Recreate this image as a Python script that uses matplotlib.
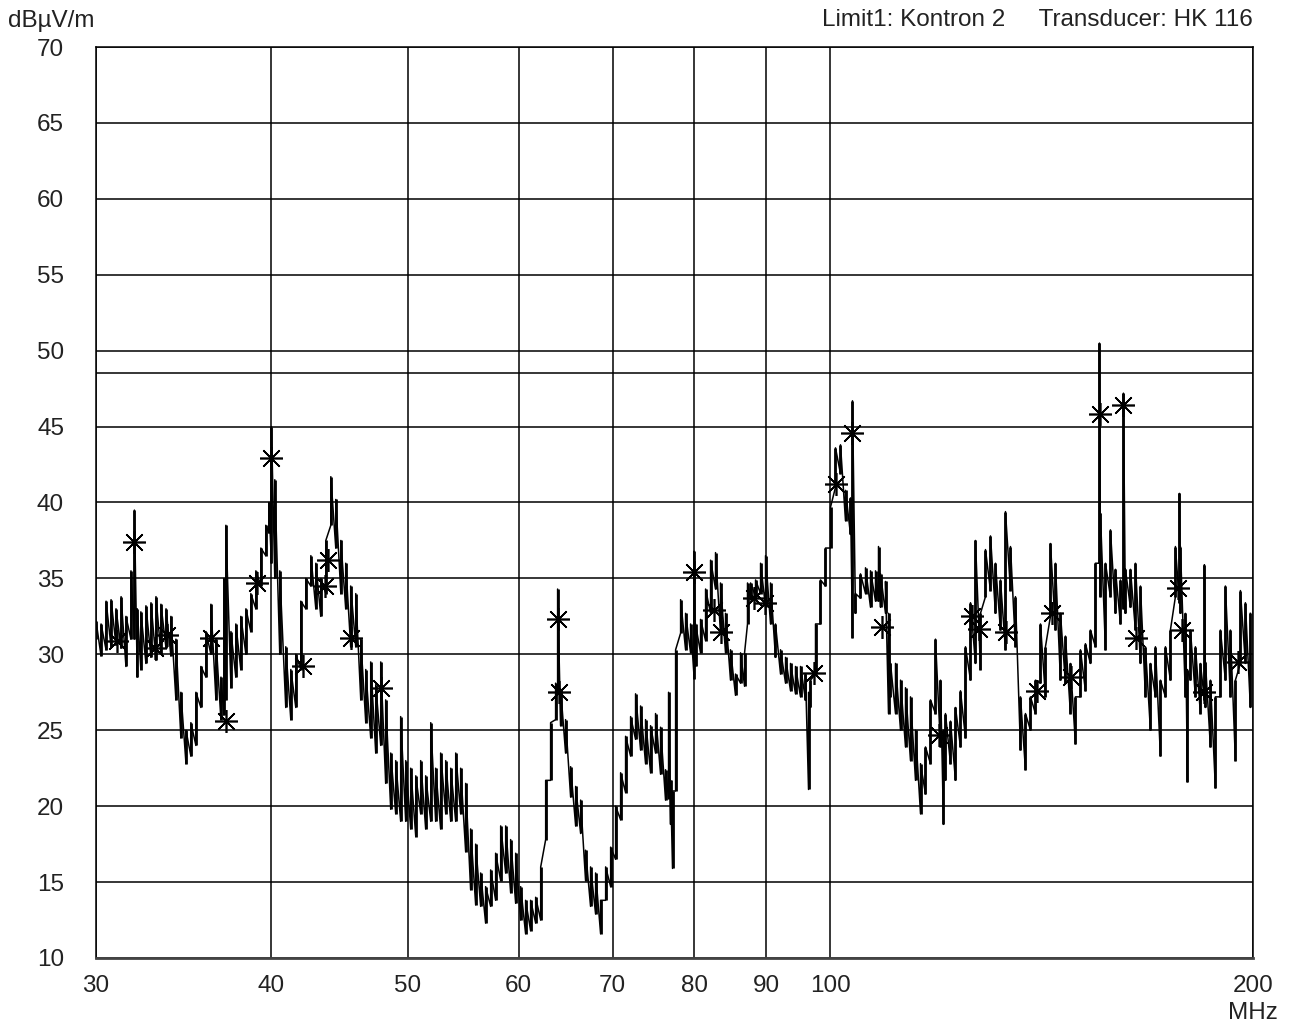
import numpy as np
import matplotlib
matplotlib.use("Agg")
import matplotlib.pyplot as plt
from matplotlib.ticker import NullLocator, FixedLocator, FixedFormatter

plt.rcParams["font.family"] = ["Liberation Sans", "DejaVu Sans"]

# Sweep frequencies (MHz) with the min / max level seen in each display column (dBµV/m)
freq_mhz = [
    30.00, 30.25, 30.50, 30.75, 31.00, 31.26, 31.51, 31.77, 31.95, 32.10,
    32.29, 32.56, 32.83, 33.10, 33.37, 33.65, 33.92, 34.20, 34.48, 34.77,
    35.05, 35.34, 35.63, 35.93, 36.22, 36.52, 36.82, 37.00, 37.12, 37.43,
    37.73, 38.04, 38.36, 38.67, 38.99, 39.31, 39.63, 39.83, 40.00, 40.22,
    40.55, 40.95, 41.29, 41.63, 41.97, 42.32, 42.67, 43.02, 43.37, 43.73,
    44.09, 44.45, 44.82, 45.18, 45.55, 45.93, 46.31, 46.69, 47.07, 47.46,
    47.85, 48.24, 48.64, 49.04, 49.44, 49.85, 50.26, 50.68, 51.09, 51.51,
    51.94, 52.36, 52.79, 53.23, 53.67, 54.11, 54.55, 55.00, 55.45, 55.91,
    56.37, 56.83, 57.30, 57.77, 58.25, 58.73, 59.21, 59.70, 60.19, 60.68,
    61.18, 61.69, 62.20, 62.71, 63.22, 63.74, 63.95, 64.27, 64.79, 65.33,
    65.87, 66.41, 66.95, 67.50, 68.06, 68.62, 69.19, 69.76, 70.33, 70.91,
    71.49, 72.08, 72.67, 73.27, 73.87, 74.48, 75.09, 75.71, 76.33, 76.71,
    76.96, 77.21, 77.60, 78.24, 78.88, 79.53, 80.00, 80.18, 80.84, 81.51,
    82.18, 82.85, 83.53, 84.22, 84.91, 85.61, 86.32, 86.89, 87.31, 87.75,
    88.47, 89.20, 89.93, 90.67, 91.41, 92.17, 92.93, 93.69, 94.46, 95.24,
    96.02, 96.50, 96.81, 97.61, 98.41, 99.22, 100.04, 100.86, 101.69, 102.53,
    103.37, 103.71, 104.22, 105.08, 105.95, 106.82, 107.70, 108.23, 108.59, 109.48,
    110.02, 110.38, 111.29, 112.21, 113.13, 114.06, 115.00, 115.95, 116.90, 117.86,
    118.83, 119.81, 120.40, 120.79, 121.79, 122.79, 123.80, 124.82, 125.85, 126.88,
    127.93, 128.98, 130.04, 131.11, 132.19, 133.28, 134.38, 135.48, 136.60, 137.72,
    138.86, 140.00, 141.15, 142.31, 143.48, 144.66, 145.85, 147.05, 148.26, 149.48,
    150.71, 151.95, 153.20, 154.46, 155.48, 155.73, 157.02, 158.31, 159.61, 160.93,
    161.72, 162.25, 163.58, 164.93, 166.29, 167.66, 169.04, 170.43, 171.83, 173.25,
    174.67, 176.11, 177.27, 177.56, 179.02, 179.61, 180.50, 181.98, 183.48, 184.68,
    184.99, 186.51, 188.04, 189.59, 191.15, 192.72, 194.31, 195.91, 197.52, 199.14,
]

level_min = [
    31.0, 29.9, 30.3, 30.5, 30.6, 30.4, 29.2, 31.0, 31.0, 28.5,
    29.0, 29.4, 29.8, 29.6, 30.0, 30.4, 29.9, 27.0, 24.5, 22.8,
    23.3, 24.0, 26.5, 28.5, 30.0, 27.0, 25.7, 26.0, 27.0, 27.8,
    28.5, 29.0, 30.0, 31.5, 33.0, 34.5, 36.5, 38.0, 36.0, 35.0,
    30.0, 26.5, 25.7, 26.5, 29.0, 33.0, 34.5, 33.0, 32.5, 34.0,
    38.5, 37.0, 34.0, 33.0, 30.5, 30.5, 27.0, 25.5, 24.5, 23.5,
    24.0, 21.5, 19.8, 19.5, 19.0, 19.0, 18.5, 18.0, 19.5, 18.5,
    19.0, 19.0, 18.5, 19.5, 19.0, 19.0, 19.5, 17.0, 14.5, 13.5,
    13.4, 12.3, 13.4, 13.8, 15.1, 15.6, 14.3, 13.6, 12.5, 11.6,
    11.8, 12.3, 12.5, 17.8, 21.7, 25.7, 27.4, 25.3, 23.5, 20.6,
    18.7, 18.2, 15.1, 13.4, 12.9, 11.6, 13.8, 14.7, 16.5, 19.1,
    20.9, 23.3, 24.4, 23.7, 22.8, 22.2, 23.5, 22.1, 20.4, 20.5,
    18.8, 15.9, 21.0, 31.4, 30.3, 30.1, 28.4, 29.2, 30.1, 30.9,
    32.7, 34.3, 31.4, 30.1, 28.3, 27.3, 28.1, 27.9, 32.0, 33.6,
    33.8, 34.0, 33.1, 32.0, 29.8, 28.7, 28.1, 27.6, 27.4, 27.2,
    27.0, 21.1, 26.5, 28.7, 32.0, 34.5, 37.0, 41.0, 41.9, 38.8,
    37.9, 31.1, 32.7, 33.7, 34.0, 33.1, 33.5, 33.5, 33.1, 32.7,
    26.1, 27.2, 26.1, 25.0, 23.9, 23.0, 21.7, 19.5, 20.8, 22.8,
    26.1, 23.9, 18.8, 21.7, 22.8, 21.7, 23.9, 24.5, 28.3, 29.4,
    29.0, 33.8, 34.2, 32.7, 31.6, 30.3, 34.2, 30.5, 23.7, 22.4,
    25.0, 26.1, 28.1, 27.2, 32.5, 31.6, 28.3, 28.1, 26.1, 24.1,
    27.2, 27.6, 29.4, 30.5, 36.0, 33.8, 30.3, 33.8, 32.7, 32.0,
    33.0, 32.7, 33.1, 31.6, 29.4, 27.2, 25.0, 27.2, 23.3, 27.2,
    28.3, 33.8, 33.4, 32.7, 27.2, 21.6, 28.3, 27.2, 26.1, 27.0,
    26.5, 23.9, 21.2, 27.2, 28.3, 27.2, 23.0, 29.4, 29.4, 26.5,
]

level_max = [
    32.2, 32.0, 33.5, 33.6, 33.0, 33.8, 32.5, 35.5, 39.5, 33.0,
    32.8, 33.2, 33.4, 33.8, 33.3, 33.0, 32.5, 31.0, 27.5, 25.0,
    25.5, 27.5, 29.2, 31.5, 33.3, 31.0, 28.5, 35.0, 38.5, 31.5,
    32.0, 32.5, 33.0, 34.0, 35.5, 37.0, 38.5, 40.0, 45.0, 41.5,
    35.5, 30.5, 29.0, 30.0, 33.5, 35.0, 36.5, 36.0, 35.0, 37.5,
    41.7, 40.2, 37.5, 36.0, 34.5, 34.0, 31.0, 29.0, 29.5, 28.0,
    29.5, 27.0, 23.5, 23.0, 25.9, 23.0, 22.5, 22.0, 23.0, 22.0,
    25.5, 22.5, 23.5, 23.0, 22.5, 23.5, 22.5, 21.5, 18.5, 17.5,
    15.6, 14.7, 15.8, 16.9, 18.7, 18.7, 17.8, 16.9, 14.7, 13.8,
    13.8, 14.0, 16.0, 21.7, 25.5, 28.1, 34.3, 27.7, 25.7, 22.6,
    21.3, 20.4, 17.1, 16.0, 15.6, 13.8, 16.0, 17.3, 20.0, 22.2,
    24.6, 25.9, 27.4, 26.6, 25.7, 25.3, 26.1, 25.2, 22.4, 27.5,
    21.7, 21.0, 30.3, 33.6, 32.7, 32.0, 36.8, 32.0, 32.3, 34.3,
    36.2, 36.7, 34.7, 32.7, 30.3, 28.7, 30.1, 30.1, 34.7, 34.7,
    34.9, 36.0, 36.5, 34.7, 32.0, 30.3, 29.8, 29.4, 29.2, 29.2,
    28.7, 27.5, 28.3, 32.0, 34.9, 37.0, 39.7, 43.6, 43.8, 40.8,
    40.3, 46.7, 34.0, 35.3, 35.7, 35.5, 35.5, 37.1, 35.3, 34.8,
    32.7, 29.4, 29.4, 28.3, 27.8, 27.2, 25.0, 22.8, 23.9, 27.0,
    31.0, 28.3, 25.0, 26.1, 25.6, 26.5, 27.6, 30.5, 33.4, 37.5,
    32.7, 36.9, 37.8, 36.0, 34.9, 39.4, 37.1, 33.8, 27.2, 26.1,
    27.2, 28.3, 32.0, 30.5, 37.3, 36.0, 32.7, 31.2, 29.4, 27.2,
    30.3, 30.7, 31.6, 36.0, 50.5, 39.3, 36.0, 38.2, 35.6, 34.9,
    47.2, 35.6, 35.6, 36.0, 34.5, 30.5, 29.4, 30.5, 28.3, 30.5,
    31.6, 37.1, 40.6, 37.1, 32.7, 29.0, 31.6, 30.5, 29.4, 35.9,
    29.5, 28.3, 27.2, 31.6, 34.5, 31.6, 28.3, 34.2, 33.4, 32.7,
]

# Peak-search results (asterisks)
peak_freq = [31.05, 31.95, 33.05, 33.70, 36.25, 37.15, 39.05, 40.0, 42.1, 43.7,
             43.9, 45.6, 47.9, 63.95, 64.1, 80.0, 82.7, 83.6, 88.3, 89.9,
             97.4, 100.9, 103.7, 108.8, 119.6, 126.1, 127.6, 133.3, 140.3, 143.8,
             148.5, 155.5, 161.7, 165.1, 177.0, 178.1, 184.6, 195.3]
peak_level = [30.9, 37.4, 30.4, 31.3, 31.1, 25.6, 34.7, 42.9, 29.2, 34.5,
              36.2, 31.1, 27.8, 32.3, 27.5, 35.4, 32.9, 31.5, 33.7, 33.4,
              28.8, 41.2, 44.6, 31.8, 24.7, 32.5, 31.7, 31.5, 27.6, 32.7,
              28.5, 45.8, 46.4, 31.1, 34.4, 31.6, 27.5, 29.5]

limit_level = 48.5
x_ticks = [30, 40, 50, 60, 70, 80, 90, 100, 200]
y_ticks = list(range(10, 75, 5))

FS = 17.5
TXT = "#222222"
W, H = 1293, 1026
fig = plt.figure(figsize=(W / 100, H / 100), dpi=100)
ax = fig.add_axes([96 / W, (H - 958) / H, (1253 - 96) / W, (958 - 47) / H])

# Min/max display: one vertical stroke per column, joined as a sawtooth
fr = np.asarray(freq_mhz)
lo = np.asarray(level_min)
hi = np.asarray(level_max)
ax.vlines(fr, lo, hi, color="black", lw=2.0, zorder=3)
ax.plot(np.repeat(fr, 2), np.column_stack([lo, hi]).ravel(),
        color="black", lw=1.1, zorder=3)

ax.plot(peak_freq, peak_level, linestyle="none", marker=(8, 2, 0),
        markersize=16.5, markeredgewidth=1.2, color="black", zorder=4)

ax.axhline(limit_level, color="black", lw=1.1, zorder=2)

ax.set_xscale("log")
ax.set_xlim(30, 200)
ax.set_ylim(10, 70)
ax.xaxis.set_major_locator(FixedLocator(x_ticks))
ax.xaxis.set_major_formatter(FixedFormatter([str(t) for t in x_ticks]))
ax.xaxis.set_minor_locator(NullLocator())
ax.set_yticks(y_ticks)
ax.grid(True, color="black", lw=1.1, zorder=1)
ax.tick_params(length=0, labelsize=FS, colors=TXT)
ax.tick_params(axis="y", pad=23)
ax.tick_params(axis="x", pad=12)
for s in ("left", "right", "top"):
    ax.spines[s].set_linewidth(1.1)
ax.spines["bottom"].set_linewidth(2.0)
ax.spines["bottom"].set_color("#444444")

fig.text(8 / W, 1 - 21 / H, "dBµV/m", ha="left", va="center", fontsize=FS, color=TXT)
fig.text(1253 / W, 1 - 20 / H, "Limit1: Kontron 2     Transducer: HK 116",
         ha="right", va="center", fontsize=FS, color=TXT)
fig.text(1253 / W, 1 - 1013 / H, "MHz", ha="center", va="center", fontsize=FS, color=TXT)

fig.savefig("out.png", dpi=100, facecolor="white")
